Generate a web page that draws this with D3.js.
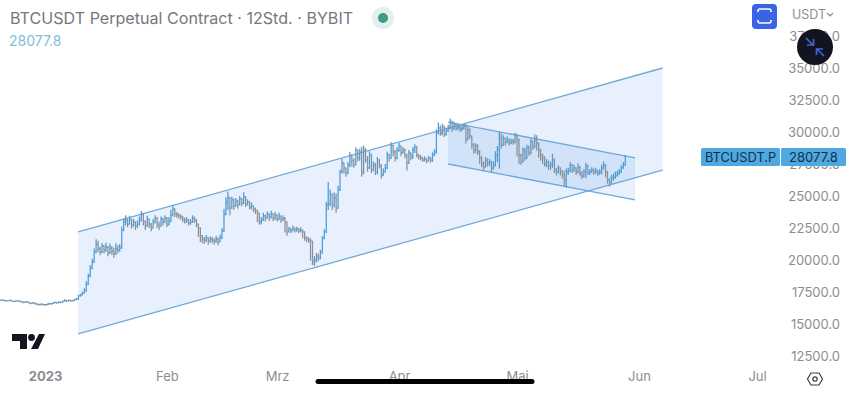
<!DOCTYPE html>
<html>
<head>
<meta charset="utf-8">
<script src="https://cdn.jsdelivr.net/npm/d3@7"></script>
<style>
  html, body { margin: 0; background: #fff; }
  svg { display: block; font-family: Inter, "Noto Sans", sans-serif; }
  .axis path { display: none; }
  .axis text { fill: #8b8d92; font-family: Inter, "Noto Sans", sans-serif; }
</style>
</head>
<body>
<svg id="chart" width="850" height="393"></svg>
<script>
const priceTicks = [12500, 15000, 17500, 20000, 22500, 25000, 27500, 30000, 32500, 35000, 37500];
const monthLabels = ['2023', 'Feb', 'Mrz', 'Apr', 'Mai', 'Jun', 'Jul'];
const monthDates = [Date.UTC(2023, 0, 1), Date.UTC(2023, 1, 1), Date.UTC(2023, 2, 1), Date.UTC(2023, 3, 1), Date.UTC(2023, 4, 1), Date.UTC(2023, 5, 1), Date.UTC(2023, 6, 1)];
const firstBar = Date.UTC(2022, 11, 20, 12);
const lastPrice = 28077.8;

// 12h closes, one row per ten bars
const closes = [
  16860,16880,16840,16800,16830,16850,16790,16760,16780,16810,
  16770,16720,16690,16740,16700,16640,16610,16650,16590,16530,
  16510,16560,16520,16490,16540,16600,16570,16630,16680,16650,
  16700,16680,16760,16840,16800,16850,16810,16830,16900,16950,
  17190,17270,17420,17580,18120,18750,19370,19840,20620,21250,
  20860,20620,21090,20780,21010,20550,20930,20700,20470,20860,
  20780,20940,22340,22970,23130,22810,23200,22730,22970,22660,
  22810,23120,23590,22970,22660,23200,22810,22500,22970,23280,
  22810,22660,23200,22970,23280,22810,23050,23520,23980,23590,
  23520,23440,23360,23200,23050,23130,22890,22970,23280,23130,
  22810,22500,21880,21640,21560,21720,21480,21640,21560,21480,
  21640,21410,21720,22270,23590,24530,24840,24060,24690,24220,
  24610,24300,24770,24450,24920,24380,24530,24140,24220,23980,
  23830,23670,22970,23130,23440,23280,23590,23360,23590,23280,
  23520,23200,23440,23130,23280,22970,22190,22420,22270,22500,
  22340,22420,22270,22340,22190,21720,21640,21560,21480,19840,
  20000,20310,20160,20550,21720,22190,24300,24380,25160,24300,
  24840,24060,25470,26880,27580,27190,26800,27420,28200,27810,
  27420,28590,27970,28440,26870,28590,27810,27190,28200,27030,
  27420,26870,27810,27340,26640,26870,27190,28200,27970,28910,
  28440,27970,28590,28910,28360,28590,28200,27580,28360,28050,
  28590,28830,28200,28050,27970,27810,27890,27730,27970,27810,
  28200,28440,30000,30310,29920,30390,29840,30080,30310,30780,
  30310,30550,30310,30390,30230,30310,30470,29380,30160,29690,
  28980,28590,28910,28440,27970,27500,27270,27810,27580,27660,
  27190,27420,28200,28590,29530,28980,29530,29220,29380,29140,
  29300,29220,29690,29380,28200,27660,28590,27970,28750,28360,
  29220,28830,29380,29140,28590,28200,27970,27500,27660,27340,
  27420,27810,27030,26880,27190,26880,26640,26250,26880,26950,
  27420,27030,27190,26880,27270,26800,26560,26880,27340,26880,
  26880,27030,26880,26950,26800,26880,27190,27420,26880,26250,
  26020,26410,26480,26640,26800,26880,27190,27420,28077.8
];
const highs = [
  16920,16930,16900,16860,16880,16910,16860,16820,16830,16870,
  16840,16790,16750,16800,16760,16720,16670,16710,16660,16600,
  16580,16620,16590,16560,16610,16660,16640,16700,16750,16720,
  16780,16750,16830,16930,16870,16920,16890,16900,16980,17040,
  17280,17360,17530,17800,18350,18950,19600,20100,20900,21620,
  21500,21050,21300,21180,21350,21100,21290,21100,20950,21300,
  21150,21250,22600,23250,23500,23200,23450,23150,23200,23000,
  23080,23400,23830,23650,23100,23450,23250,22900,23200,23500,
  23350,23000,23400,23300,23500,23350,23350,23900,24300,24050,
  23750,23650,23550,23450,23300,23350,23200,23200,23500,23400,
  23200,22850,22550,21950,21800,21950,21780,21850,21800,21700,
  21900,21750,22000,22500,24000,24900,25350,24950,24950,24800,
  24850,24700,25000,24850,25300,25000,24750,24600,24500,24250,
  24100,23950,23700,23350,23700,23550,23800,23650,23850,23650,
  23750,23550,23700,23450,23500,23350,23000,22600,22500,22700,
  22550,22600,22500,22550,22400,22250,21850,21800,21700,21500,
  20300,20550,20500,20800,21850,22400,24550,26100,25500,25200,
  25300,25200,25800,27050,27900,27600,27200,27650,28450,28200,
  27950,28800,28650,28700,28850,28950,28750,28100,28500,28300,
  27700,27600,28050,27900,27500,27150,27500,28450,28300,29200,
  29000,28600,28800,29150,28950,28800,28700,28300,28600,28400,
  28800,29050,28900,28300,28200,28050,28100,27950,28150,28050,
  28400,28650,30200,30750,30500,30650,30500,30350,30550,31050,
  30900,30800,30600,30650,30500,30550,30650,30600,30450,30300,
  29700,29150,29100,29050,28600,28100,27700,28050,27950,27900,
  27750,27700,28500,28900,30000,29900,29750,29550,29650,29500,
  29500,29450,29950,29850,29500,28300,28800,28750,29000,28950,
  29450,29350,29800,29750,29200,28700,28300,28100,27900,27750,
  27700,28300,27950,27200,27400,27250,27050,26950,27150,27200,
  27650,27500,27450,27250,27550,27350,26950,27100,27600,27450,
  27100,27250,27150,27200,27050,27100,27450,27700,27500,26950,
  26400,26650,26750,26900,27000,27100,27400,27650,28200
];
const lows = [
  16800,16820,16770,16740,16780,16790,16730,16700,16720,16750,
  16710,16660,16630,16680,16640,16580,16550,16590,16510,16460,
  16440,16490,16450,16420,16470,16530,16510,16560,16620,16590,
  16630,16620,16690,16750,16720,16780,16740,16760,16820,16880,
  16900,17130,17220,17360,17520,18050,18650,19280,19760,20520,
  20600,20380,20550,20500,20650,20300,20480,20400,20150,20400,
  20500,20650,20850,22250,22700,22550,22750,22450,22600,22350,
  22500,22700,23000,22700,22350,22600,22500,22250,22480,22850,
  22500,22350,22600,22700,22900,22550,22700,22950,23400,23350,
  23300,23250,23150,22950,22850,22900,22700,22750,22900,22900,
  22550,21800,21400,21300,21250,21400,21200,21350,21300,21200,
  21350,21150,21400,21650,22200,23500,23900,23500,24000,23900,
  24150,24000,24250,24200,24350,24150,24250,23950,23950,23750,
  23600,22950,22750,22800,23050,23000,23250,23050,23250,23050,
  23150,23000,23100,22900,23050,22150,21900,22150,22100,22250,
  22150,22200,22100,22150,21700,21500,21400,21350,19950,19600,
  19550,19800,19900,20050,20500,21600,22100,23900,24200,23900,
  24100,23700,24000,25400,26750,26750,26500,26700,27250,27300,
  27200,27400,27700,27750,26500,26700,27600,26900,27100,26800,
  26950,26650,26700,27150,26350,26550,26850,27100,27700,27900,
  28100,27700,27850,28450,28100,28300,27950,27000,27500,27800,
  27900,28350,28000,27850,27800,27650,27700,27550,27700,27600,
  27650,28100,28300,29800,29700,29750,29600,29700,30000,30200,
  30000,30150,30100,30150,30000,30050,30200,29100,29350,29450,
  28700,28300,28350,28200,27500,27250,27000,27200,27300,27350,
  26800,27050,27300,27650,27150,28700,28900,28950,29100,28950,
  29050,29000,29100,28100,27500,27450,27600,27750,27900,28150,
  28250,28600,28750,28550,28000,27750,27500,27300,27250,27050,
  27050,27200,26800,26600,26750,26600,26350,25750,25650,26650,
  26850,26800,26900,26650,26750,26550,26300,26450,26400,26650,
  26650,26800,26650,26700,26550,26650,26700,27050,26450,25950,
  25750,25950,26200,26350,26500,26650,26800,27100,27350
];

// the two drawn channels: [start date, end date, upper start, upper end, lower start, lower end]
const bigChannel = [Date.UTC(2023, 0, 9, 10), Date.UTC(2023, 5, 7), 22190, 35000, 14220, 27030];
const smallChannel = [Date.UTC(2023, 3, 13, 12), Date.UTC(2023, 4, 31), 30780, 27970, 27500, 24690];

const x = d3.scaleUtc().domain([monthDates[0], monthDates[6]]).range([45, 757]);
const y = d3.scaleLinear().domain([12500, 35000]).range([356, 68]);

const svg = d3.select('#chart');
const H12 = 12 * 3600 * 1000;

[bigChannel, smallChannel].forEach(c => {
  const [t0, t1, u0, u1, l0, l1] = c;
  svg.append('path')
    .attr('d', d3.line()([[x(t0), y(u0)], [x(t1), y(u1)], [x(t1), y(l1)], [x(t0), y(l0)]]) + 'Z')
    .attr('fill', '#5b9de8').attr('fill-opacity', .15);
  [[u0, u1], [l0, l1]].forEach(([a, b]) => {
    svg.append('line').attr('x1', x(t0)).attr('x2', x(t1)).attr('y1', y(a)).attr('y2', y(b))
      .attr('stroke', '#6fa9dc').attr('stroke-width', 1.3);
  });
});

const bars = closes.map((c, i) => {
  const o = i ? closes[i - 1] : c;
  return { t: firstBar + i * H12, o, c, h: Math.max(highs[i], o, c), l: Math.min(lows[i], o, c) };
});

svg.append('g').selectAll('path').data(bars).join('path')
  .attr('d', d => {
    const px = x(d.t);
    return `M${px},${y(d.h)}V${y(d.l)}M${px - 1},${y(d.o)}H${px}M${px},${y(d.c)}H${px + 1}`;
  })
  .attr('fill', 'none')
  .attr('stroke', d => d.c >= d.o ? '#4d9bd6' : '#8d8f94')
  .attr('stroke-width', 1.25);

svg.append('g').attr('class', 'axis').attr('transform', 'translate(840,0)')
  .call(d3.axisLeft(y).tickValues(priceTicks).tickSize(0).tickPadding(0).tickFormat(d3.format('.1f')))
  .selectAll('text').attr('font-size', 13).attr('dy', '.32em');

svg.append('g').attr('class', 'axis').attr('transform', 'translate(0,372)')
  .call(d3.axisBottom(x).tickValues(monthDates).tickSize(0).tickPadding(0).tickFormat((d, i) => monthLabels[i]))
  .selectAll('text').attr('font-size', 13).attr('dy', '.72em')
  .attr('font-weight', (d, i) => i ? 400 : 700);

// header
svg.append('text').attr('x', 10).attr('y', 24).attr('font-size', 16.1).attr('fill', '#76787e')
  .text('BTCUSDT Perpetual Contract · 12Std. · BYBIT');
svg.append('text').attr('x', 9).attr('y', 46).attr('font-size', 14).attr('fill', '#7cc0dc')
  .text(d3.format('.1f')(lastPrice));
svg.append('circle').attr('cx', 383).attr('cy', 18).attr('r', 11).attr('fill', '#e4eeec');
svg.append('circle').attr('cx', 383).attr('cy', 18).attr('r', 5).attr('fill', '#3f9a88');

// top right buttons
svg.append('rect').attr('x', 752).attr('y', 4).attr('width', 25).attr('height', 25).attr('rx', 4).attr('fill', '#3b63e6');
svg.append('path').attr('d', 'M758,12V11Q758,9 760,9H769Q771,9 771,11V12M758,20V21Q758,23 760,23H769Q771,23 771,21V20')
  .attr('fill', 'none').attr('stroke', '#fff').attr('stroke-width', 1.6);
svg.append('text').attr('x', 792).attr('y', 19).attr('font-size', 12.5).attr('fill', '#8b8d92').text('USDT');
svg.append('path').attr('d', 'M827,13L830,16L833,13').attr('fill', 'none').attr('stroke', '#8b8d92').attr('stroke-width', 1.2);
svg.append('circle').attr('cx', 815).attr('cy', 47).attr('r', 18).attr('fill', '#12141f');
svg.append('path').attr('d', 'M806,38L813,45M807,45H813.5V39M824,56L817,49M823,49H816.5V55')
  .attr('fill', 'none').attr('stroke', '#3f66d8').attr('stroke-width', 1.7);

// last price tag
svg.append('rect').attr('x', 701).attr('y', 148).attr('width', 79).attr('height', 18).attr('rx', 1.5).attr('fill', '#4fa8e0');
svg.append('rect').attr('x', 781).attr('y', 148).attr('width', 65).attr('height', 18).attr('rx', 1.5).attr('fill', '#4fa8e0');
svg.append('text').attr('x', 740.5).attr('y', 162).attr('text-anchor', 'middle').attr('font-size', 12.8).attr('fill', '#12304a').text('BTCUSDT.P');
svg.append('text').attr('x', 813.5).attr('y', 162).attr('text-anchor', 'middle').attr('font-size', 13).attr('fill', '#12304a').text(d3.format('.1f')(lastPrice));

// logo
svg.append('path').attr('d', 'M12,334H27V349H20V341H12ZM39,334H45L38,349H31Z').attr('fill', '#14161f');
svg.append('circle').attr('cx', 31.5).attr('cy', 337.5).attr('r', 3.4).attr('fill', '#14161f');

// settings hexagon
svg.append('path').attr('d', 'M811,373H819L822.5,379L819,385H811L807.5,379Z').attr('fill', 'none').attr('stroke', '#3a3c44').attr('stroke-width', 1.2);
svg.append('circle').attr('cx', 815).attr('cy', 379).attr('r', 2.2).attr('fill', 'none').attr('stroke', '#3a3c44').attr('stroke-width', 1.2);

// phone home bar
svg.append('line').attr('x1', 318).attr('x2', 532).attr('y1', 381.5).attr('y2', 381.5)
  .attr('stroke', '#000').attr('stroke-width', 5).attr('stroke-linecap', 'round');
</script>
</body>
</html>
